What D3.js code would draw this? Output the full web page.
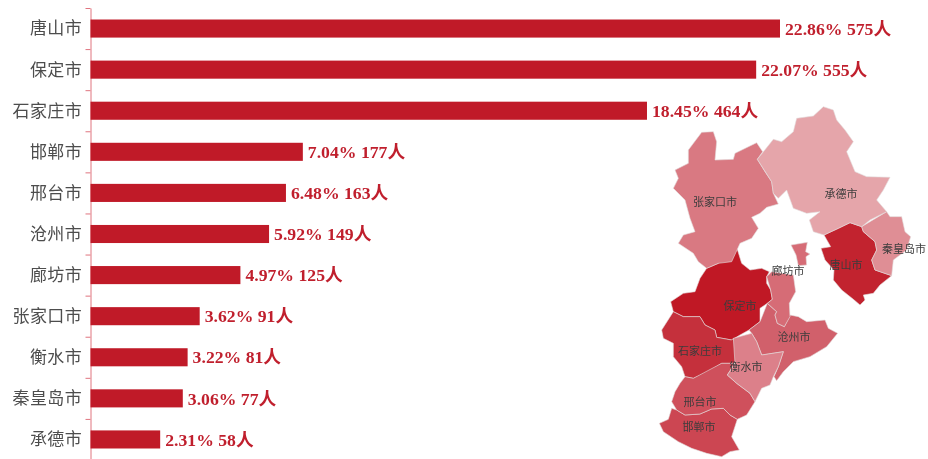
<!DOCTYPE html>
<html><head><meta charset="utf-8">
<script src="https://cdn.jsdelivr.net/npm/d3@7"></script>
<style>html,body{margin:0;padding:0;background:#fff;overflow:hidden}svg{filter:blur(0.3px)}</style>
</head><body><div id="c"></div>
<script>
const cities=["唐山市","保定市","石家庄市","邯郸市","邢台市","沧州市","廊坊市","张家口市","衡水市","秦皇岛市","承德市"];
const shares=[22.86,22.07,18.45,7.04,6.48,5.92,4.97,3.62,3.22,3.06,2.31];
const counts=[575,555,464,177,163,149,125,91,81,77,58];
const mapColors=["#c2232f","#c01825","#c5303c","#cc4652","#cf505c","#d1606b","#d66c76","#d97982","#dc808a","#df8e95","#e5a5aa"];
// Region outlines and label anchors, in map units
const shapeTangshan=[[[522,405],[565,385],[600,368],[635,380],[640,395],[675,425],[680,450],[665,480],[675,510],[725,527],[690,555],[670,580],[640,585],[645,600],[630,615],[610,598],[575,570],[550,540],[552,510],[525,480],[513,445],[542,440],[542,425]]];
const shapeBaoding=[[[262,448],[275,490],[300,510],[335,505],[358,515],[350,530],[350,550],[362,570],[367,598],[352,610],[330,625],[330,665],[297,690],[270,705],[245,720],[200,712],[195,690],[165,675],[150,650],[100,650],[70,635],[62,605],[100,580],[135,575],[150,535],[170,505],[205,490],[245,485]]];
const shapeShijiazhuang=[[[70,635],[100,650],[150,650],[165,675],[195,690],[200,712],[245,720],[250,715],[262,745],[255,790],[215,790],[175,815],[130,835],[105,830],[95,800],[70,770],[70,730],[40,715],[35,690],[42,658]]];
const shapeHandan=[[[65,925],[80,930],[105,945],[150,942],[185,927],[220,925],[240,945],[262,958],[245,1010],[268,1050],[240,1055],[215,1070],[170,1060],[125,1045],[85,1025],[40,995],[28,970],[55,958],[65,940]]];
const shapeXingtai=[[[215,790],[255,790],[232,825],[260,850],[300,880],[315,905],[290,945],[262,958],[240,945],[220,925],[185,927],[150,942],[105,945],[80,930],[65,905],[75,875],[90,850],[105,830],[130,835],[175,815]]];
const shapeCangzhou=[[[352,610],[380,635],[375,645],[382,670],[403,680],[420,645],[445,650],[470,665],[525,660],[535,685],[563,700],[530,740],[480,770],[430,785],[400,815],[380,842],[372,830],[385,800],[400,755],[335,765],[320,725],[305,700],[297,690],[330,665],[330,625]]];
const shapeLangfang=[[[350,530],[365,515],[430,525],[437,575],[418,610],[420,650],[403,680],[382,670],[375,645],[380,635],[352,610],[367,598],[362,570],[350,550]],[[423,435],[472,427],[467,455],[480,462],[468,470],[470,495],[445,497],[438,465],[425,455]]];
const shapeZhangjiakou=[[[155,97],[190,95],[200,125],[195,180],[250,178],[255,160],[320,128],[338,155],[322,178],[345,215],[365,245],[370,280],[385,312],[350,322],[330,340],[305,352],[325,385],[305,415],[270,430],[262,448],[245,485],[205,490],[170,505],[145,485],[130,460],[85,430],[100,405],[135,395],[120,355],[105,300],[70,265],[85,235],[75,210],[115,190],[115,150],[150,125]]];
const shapeHengshui=[[[250,715],[305,700],[320,725],[335,765],[400,755],[385,800],[370,830],[360,855],[335,865],[315,905],[300,880],[260,850],[232,825],[255,790],[262,745]]];
const shapeQinhuangdao=[[[710,335],[720,350],[755,350],[765,395],[782,410],[770,450],[730,480],[725,527],[675,510],[665,480],[680,450],[675,425],[640,395],[635,380],[660,360]]];
const shapeChengde=[[[322,178],[370,118],[395,125],[430,95],[440,55],[490,48],[520,20],[550,30],[560,60],[585,90],[610,125],[590,155],[615,215],[650,230],[720,232],[700,270],[680,300],[710,335],[660,360],[635,380],[600,368],[565,385],[522,405],[490,395],[478,360],[510,335],[470,340],[430,325],[410,270],[385,295],[370,280],[365,245],[345,215]]];
const shapes=[shapeTangshan,shapeBaoding,shapeShijiazhuang,shapeHandan,shapeXingtai,shapeCangzhou,shapeLangfang,shapeZhangjiakou,shapeHengshui,shapeQinhuangdao,shapeChengde];
const labelAnchors=[[588,495],[270,618],[150,753],[147,981],[150,906],[432,711],[414,513],[195,306],[288,801],[762,447],[573,282]];

const W=928,H=459;
const svg=d3.select("#c").append("svg").attr("width",W).attr("height",H).style("display","block");

const x=d3.scaleLinear().domain([0,22.86]).range([90.5,780]);
const y=d3.scaleBand().domain(cities).range([8,460]).paddingInner(0.56).paddingOuter(0.28);
const ty=d3.scaleLinear().domain([0,cities.length]).range([8,460]);

const axis=d3.axisLeft(ty).tickValues(d3.range(cities.length+1)).tickFormat("").tickSize(5).tickSizeOuter(0);
const ag=svg.append("g").attr("transform","translate(90.5,0)").call(axis);
ag.selectAll("path,line").attr("stroke","#e0747f").attr("stroke-width",1);

svg.append("g").selectAll("rect").data(cities).join("rect")
 .attr("x",x(0)).attr("y",d=>y(d)).attr("height",y.bandwidth())
 .attr("width",(d,i)=>x(shares[i])-x(0)).attr("fill","#c01a28");

const cjk='"Liberation Serif","Noto Sans CJK SC",serif';
svg.append("g").selectAll("text").data(cities).join("text")
 .attr("x",82).attr("y",d=>y(d)+y.bandwidth()/2).attr("dy","0.35em")
 .attr("text-anchor","end").attr("font-family",cjk).attr("font-size",17)
 .attr("letter-spacing",0.35).attr("fill","#4d4d4d").text(d=>d);

svg.append("g").selectAll("text").data(cities).join("text")
 .attr("x",(d,i)=>x(shares[i])+5).attr("y",d=>y(d)+y.bandwidth()/2).attr("dy","0.35em")
 .attr("font-family",cjk).attr("font-size",17.7).attr("font-weight",700)
 .attr("fill","#c01f2d").text((d,i)=>`${shares[i].toFixed(2)}% ${counts[i]}人`);

// Map
const proj=d3.geoIdentity().scale(1/3).translate([650,100]);
const path=d3.geoPath(proj);
const order=d3.range(cities.length);
svg.append("g").selectAll("path").data(order).join("path")
 .attr("d",i=>path({type:"MultiPolygon",coordinates:shapes[i].map(r=>[r])}))
 .attr("fill",i=>mapColors[i]).attr("stroke","#e3dcdc").attr("stroke-width",0.6).attr("stroke-linejoin","round");
svg.append("g").selectAll("text").data(order).join("text")
 .attr("x",i=>proj(labelAnchors[i])[0]).attr("y",i=>proj(labelAnchors[i])[1])
 .attr("dy","0.35em").attr("text-anchor","middle")
 .attr("font-family",cjk).attr("font-size",11).attr("fill","#3c3c3c")
 .text(i=>cities[i]);
</script></body></html>
